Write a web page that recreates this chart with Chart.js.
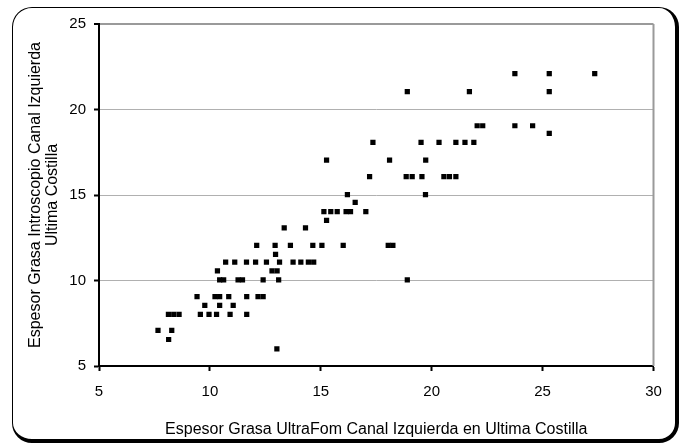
<!DOCTYPE html>
<html>
<head>
<meta charset="utf-8">
<script src="https://cdn.jsdelivr.net/npm/chart.js@4/dist/chart.umd.min.js"></script>
<style>
  html, body { margin: 0; padding: 0; background: #fff; }
  #wrap { position: relative; width: 687px; height: 445px; overflow: hidden; }
  #frame {
    position: absolute; left: 12px; top: 6.5px; width: 667px; height: 436.5px;
    box-sizing: border-box; border-style: solid; border-color: #000;
    border-width: 1.5px 4px 4px 1.5px; border-radius: 20px;
  }
  #c { position: absolute; left: 0; top: 0; }
</style>
</head>
<body>
<div id="wrap">
  <div id="frame"></div>
  <canvas id="c" width="687" height="445"></canvas>
</div>
<script>
// Data (x: UltraFom, y: Introscopio)
const xValues = [
  23.75, 25.3, 27.35,
  18.9, 21.7, 25.3,
  22.05, 22.3, 23.75, 24.55,
  25.3,
  17.35, 19.52, 20.33, 21.09, 21.5, 21.9,
  15.26, 18.1, 19.73,
  17.2, 18.85, 19.12, 19.56, 20.55, 20.8, 21.09,
  16.2, 19.72,
  16.55,
  15.14, 15.45, 15.74, 16.14, 16.34, 17.03,
  15.26,
  13.35, 14.31,
  12.11, 12.94, 13.63, 14.64, 15.05, 16.01, 18.04, 18.25,
  12.96,
  10.71, 11.12, 11.65, 12.06, 12.55, 13.14, 13.75, 14.1, 14.44, 14.68,
  10.34, 12.8, 13.03,
  10.44, 10.62, 11.27, 11.47, 12.4, 13.1, 18.9,
  9.42, 10.23, 10.44, 10.85, 11.66, 12.17, 12.4,
  9.77, 10.44, 11.05,
  8.13, 8.37, 8.61, 9.57, 9.96, 10.3, 10.91, 11.66,
  7.66, 8.28,
  8.14,
  13.02
];
const yValues = [
  22.1, 22.1, 22.1,
  21.05, 21.05, 21.05,
  19.05, 19.05, 19.05, 19.05,
  18.6,
  18.08, 18.08, 18.08, 18.08, 18.08, 18.08,
  17.04, 17.04, 17.04,
  16.07, 16.07, 16.07, 16.07, 16.07, 16.07, 16.07,
  15.02, 15.02,
  14.57,
  14.03, 14.03, 14.03, 14.03, 14.03, 14.03,
  13.52,
  13.08, 13.08,
  12.05, 12.05, 12.05, 12.05, 12.05, 12.05, 12.05, 12.05,
  11.53,
  11.08, 11.08, 11.08, 11.08, 11.08, 11.08, 11.08, 11.08, 11.08, 11.08,
  10.56, 10.56, 10.56,
  10.03, 10.03, 10.03, 10.03, 10.03, 10.03, 10.03,
  9.06, 9.06, 9.06, 9.06, 9.06, 9.06, 9.06,
  8.55, 8.55, 8.55,
  8.02, 8.02, 8.02, 8.02, 8.02, 8.02, 8.02, 8.02,
  7.08, 7.08,
  6.55,
  6.0
];
const xTitle = 'Espesor Grasa UltraFom Canal Izquierda en Ultima Costilla';
const yTitle = ['Espesor Grasa Introscopio Canal Izquierda', 'Ultima Costilla'];
const xRange = [5, 30];
const yRange = [5, 25];
const tickStep = 5;

const FONT = "'Liberation Sans', Arial, sans-serif";
const points = xValues.map((x, i) => ({ x: x, y: yValues[i] }));

const plotFrame = {
  id: 'plotFrame',
  beforeDatasetsDraw(chart) {
    const a = chart.chartArea, ctx = chart.ctx;
    ctx.save();
    ctx.strokeStyle = '#9a9a9a';
    ctx.lineWidth = 2;
    ctx.beginPath();
    ctx.moveTo(a.right, a.top);
    ctx.lineTo(a.right, a.bottom);
    ctx.stroke();
    ctx.restore();
  }
};

new Chart(document.getElementById('c'), {
  type: 'scatter',
  data: {
    datasets: [{
      data: points,
      pointStyle: 'rect',
      pointRadius: 3.7,
      pointBackgroundColor: '#000',
      pointBorderWidth: 0,
      showLine: false
    }]
  },
  options: {
    responsive: false,
    animation: false,
    devicePixelRatio: 1,
    layout: { padding: { left: 0, top: 24, right: 33.5, bottom: 0 } },
    plugins: { legend: { display: false }, tooltip: { enabled: false } },
    scales: {
      x: {
        type: 'linear',
        min: xRange[0], max: xRange[1],
        afterFit(s) { s.height = 79; },
        ticks: { stepSize: tickStep, color: '#000', padding: 12, font: { family: FONT, size: 15, lineHeight: 1.2 } },
        grid: { drawOnChartArea: false, drawTicks: true, tickLength: 5, tickColor: '#000', tickWidth: 2 },
        border: { display: true, color: '#000', width: 2 },
        title: { display: true, text: xTitle, color: '#000', font: { family: FONT, size: 16, lineHeight: 1.05 }, padding: { top: 0, bottom: 6.6 } }
      },
      y: {
        type: 'linear',
        min: yRange[0], max: yRange[1],
        afterFit(s) { s.width = 99; },
        ticks: { stepSize: tickStep, color: '#000', padding: 8, font: { family: FONT, size: 15 } },
        grid: {
          color: (c) => c.tick && c.tick.value === yRange[1] ? '#9a9a9a' : '#b0b0b0',
          lineWidth: (c) => c.tick && c.tick.value === yRange[1] ? 2 : 1,
          drawTicks: true, tickLength: 5, tickColor: '#000', tickWidth: 2
        },
        border: { display: true, color: '#000', width: 2 },
        title: { display: true, text: yTitle, color: '#000', font: { family: FONT, size: 16, lineHeight: 1.05 }, padding: { top: 27.6, bottom: 0 } }
      }
    }
  },
  plugins: [plotFrame]
});
</script>
</body>
</html>
